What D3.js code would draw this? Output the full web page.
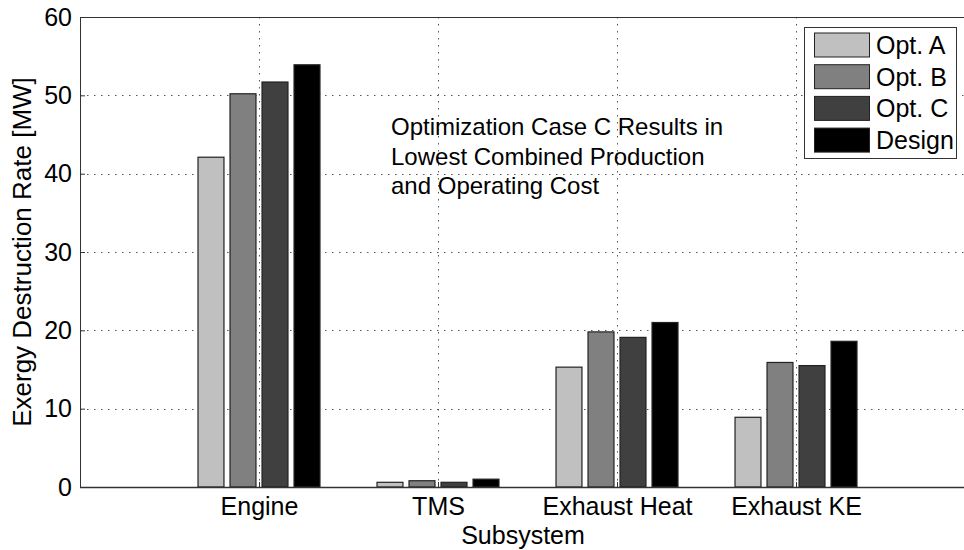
<!DOCTYPE html>
<html><head><meta charset="utf-8">
<script src="https://cdn.jsdelivr.net/npm/d3@7"></script>
<style>body{margin:0;background:#fff}svg{display:block;font-family:"Liberation Sans",Arial,sans-serif}</style>
</head><body>
<svg id="c" width="964" height="550"></svg>
<script>
const categories = ["Engine", "TMS", "Exhaust Heat", "Exhaust KE"];
const seriesNames = ["Opt. A", "Opt. B", "Opt. C", "Design"];
const optA = [42.1, 0.6, 15.3, 8.9];
const optB = [50.2, 0.8, 19.8, 15.9];
const optC = [51.7, 0.6, 19.1, 15.5];
const design = [53.9, 1.0, 21.0, 18.6];
const yTicks = [0, 10, 20, 30, 40, 50, 60];
const colors = ["#c0c0c0", "#808080", "#404040", "#000000"];
const series = [optA, optB, optC, design];

const svg = d3.select("#c");
const L = 80, T = 17, B = 487, R = 975;
const x = d3.scaleLinear().domain([0, 5]).range([L, R]);
const y = d3.scaleLinear().domain([0, 60]).range([B, T]);
const unit = x(1) - x(0);
const FF = "Liberation Sans, Arial, sans-serif";

// grid
const grid = svg.append("g");
grid.selectAll("line.h").data(yTicks.filter(d => d > 0 && d < 60)).enter().append("line")
  .attr("x1", L).attr("x2", R).attr("y1", d => Math.round(y(d)) + 0.5).attr("y2", d => Math.round(y(d)) + 0.5)
  .attr("stroke", "#555").attr("stroke-width", 1).attr("stroke-dasharray", "1.5,5.5");
grid.selectAll("line.v").data(categories).enter().append("line")
  .attr("y1", T).attr("y2", B).attr("x1", (d, i) => Math.round(x(i + 1)) + 0.5).attr("x2", (d, i) => Math.round(x(i + 1)) + 0.5)
  .attr("stroke", "#555").attr("stroke-width", 1).attr("stroke-dasharray", "1.5,5.5");

// bars
const step = 0.1788, bw = 0.145;
series.forEach((s, si) => {
  svg.append("g").selectAll("rect").data(s).enter().append("rect")
    .attr("x", (d, i) => x(i + 1 + (si - 1.5) * step - bw / 2))
    .attr("width", bw * unit)
    .attr("y", d => y(d))
    .attr("height", d => y(0) - y(d))
    .attr("fill", colors[si]).attr("stroke", "#222").attr("stroke-width", 1.2);
});

// axes frame
svg.append("line").attr("x1", L).attr("x2", R).attr("y1", B + 0.5).attr("y2", B + 0.5).attr("stroke", "#333").attr("stroke-width", 1.5);
svg.append("line").attr("x1", L).attr("x2", R).attr("y1", T + 0.5).attr("y2", T + 0.5).attr("stroke", "#333").attr("stroke-width", 1);
svg.append("line").attr("x1", L + 0.5).attr("x2", L + 0.5).attr("y1", T).attr("y2", B).attr("stroke", "#333").attr("stroke-width", 1);

const yAxis = d3.axisLeft(y).tickValues(yTicks).tickSize(-5).tickPadding(8).tickFormat(d3.format("d"));
const ya = svg.append("g").attr("transform", `translate(${L},0)`).call(yAxis);
ya.select(".domain").remove();
ya.selectAll("line").attr("stroke", "#333");
ya.selectAll("text").attr("font-size", 25).attr("fill", "#000").attr("font-family", FF);

const xAxis = d3.axisBottom(x).tickValues([1, 2, 3, 4]).tickSize(-5).tickPadding(10).tickFormat(d => categories[d - 1]);
const xa = svg.append("g").attr("transform", `translate(0,${B})`).call(xAxis);
xa.select(".domain").remove();
xa.selectAll("line").attr("stroke", "#333");
xa.selectAll("text").attr("font-size", 25).attr("fill", "#000").attr("font-family", FF);

// labels
svg.append("text").attr("x", 523).attr("y", 544).attr("text-anchor", "middle").attr("font-size", 25).attr("font-family", FF).text("Subsystem");
svg.append("text").attr("transform", "translate(31,252) rotate(-90)").attr("text-anchor", "middle").attr("font-size", 26).attr("font-family", FF).text("Exergy Destruction Rate [MW]");

// annotation
const ann = ["Optimization Case C Results in", "Lowest Combined Production", "and Operating Cost"];
svg.append("g").selectAll("text").data(ann).enter().append("text")
  .attr("x", 391).attr("y", (d, i) => 135 + i * 29.5).attr("font-size", 24).attr("font-family", FF).text(d => d);

// legend
const lg = svg.append("g");
lg.append("rect").attr("x", 804.5).attr("y", 27.5).attr("width", 152).attr("height", 131).attr("fill", "#fff").attr("stroke", "#333").attr("stroke-width", 1);
seriesNames.forEach((n, i) => {
  const cy = 45 + i * 31.7;
  lg.append("rect").attr("x", 814.5).attr("y", cy - 12).attr("width", 55).attr("height", 24).attr("fill", colors[i]).attr("stroke", "#222").attr("stroke-width", 1);
  lg.append("text").attr("x", 876).attr("y", cy + 9).attr("font-size", 25).attr("font-family", FF).text(n);
});
</script>
</body></html>
